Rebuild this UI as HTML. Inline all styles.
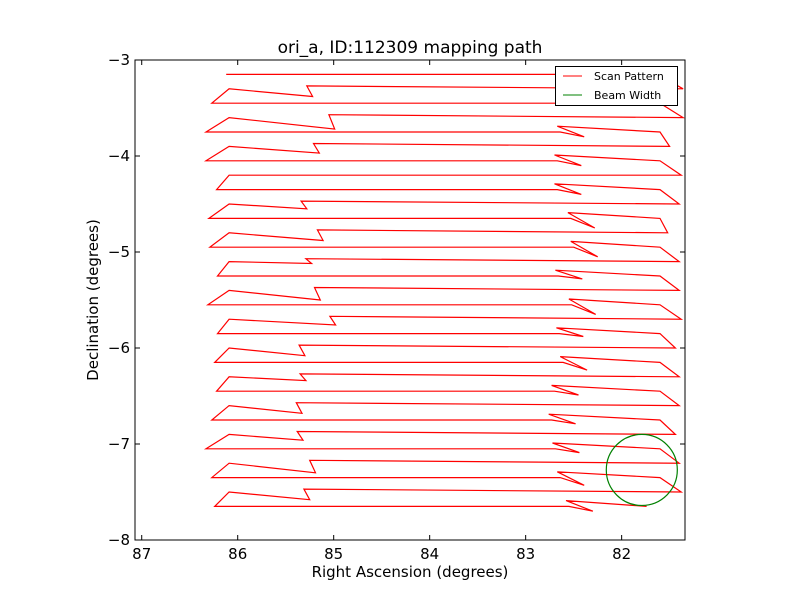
<!DOCTYPE html>
<html><head><meta charset="utf-8"><style>
html,body{margin:0;padding:0;background:#fff;}
svg{display:block;font-family:"DejaVu Sans","Liberation Sans",sans-serif;}
</style></head><body>
<svg id="chart" width="800" height="600" viewBox="0 0 800 600">
<rect x="0" y="0" width="800" height="600" fill="#ffffff"/>
<text x="410" y="53" font-size="17" text-anchor="middle">ori_a, ID:112309 mapping path</text>
<g id="plot"></g>
<text x="410" y="577" font-size="15" text-anchor="middle">Right Ascension (degrees)</text>
<text x="98" y="300" font-size="15" text-anchor="middle" transform="rotate(-90 98 300)">Declination (degrees)</text>
</svg>
<script>
const xTicks = [87, 86, 85, 84, 83, 82];
const yTicks = [-3, -4, -5, -6, -7, -8];
const decs = [-3.15,-3.30,-3.45,-3.60,-3.75,-3.90,-4.05,-4.20,-4.35,-4.50,-4.65,-4.80,-4.95,-5.10,-5.25,-5.40,-5.55,-5.70,-5.85,-6.00,-6.15,-6.30,-6.45,-6.60,-6.75,-6.90,-7.05,-7.20,-7.35,-7.50,-7.65];
const leftRA = [86.12,86.09,86.27,86.09,86.33,86.09,86.33,86.09,86.22,86.09,86.30,86.09,86.29,86.09,86.21,86.09,86.31,86.09,86.21,86.09,86.24,86.09,86.22,86.09,86.27,86.09,86.33,86.09,86.27,86.09,86.24];
const rightRA = [81.63,81.36,81.60,81.36,81.60,81.50,81.60,81.38,81.60,81.40,81.60,81.52,81.60,81.40,81.60,81.40,81.60,81.38,81.60,81.44,81.60,81.40,81.60,81.40,81.60,81.44,81.60,81.40,81.60,81.38,81.74];
const leftJagRA = [null,85.22,null,84.99,null,85.15,null,null,null,85.28,null,85.11,null,85.23,null,85.14,null,84.98,null,85.30,null,85.29,null,85.33,null,85.32,null,85.19,null,85.25,null];
const leftJagDrop = [0,0.08,0,0.12,0,0.07,0,0,0,0.05,0,0.08,0,0.02,0,0.10,0,0.06,0,0.08,0,0.04,0,0.08,0,0.06,0,0.10,0,0.08,0];
const rightJagRA = [null,null,null,null,82.39,null,82.42,null,82.42,null,82.28,null,82.25,null,82.41,null,82.27,null,82.40,null,82.36,null,82.45,null,82.48,null,82.44,null,82.39,null,82.30];
const rightJagDrop = [0,0,0,0,0.05,0,0.05,0,0.05,0,0.10,0,0.10,0,0.03,0,0.10,0,0.03,0,0.08,0,0.04,0,0.04,0,0.04,0,0.08,0,0.05];
const beamRA = 81.79, beamDec = -7.27, beamR = 0.37;

const X0=135, X1=685, Y0=60, Y1=540;
const raMin=81.34, raMax=87.07, decMin=-8, decMax=-3;
const sx = ra => X0 + (raMax-ra)/(raMax-raMin)*(X1-X0);
const sy = d => Y0 + (decMax-d)/(decMax-decMin)*(Y1-Y0);
const NS='http://www.w3.org/2000/svg';
const plot=document.getElementById('plot');
function mk(tag, attrs){const e=document.createElementNS(NS,tag);for(const k in attrs)e.setAttribute(k,attrs[k]);return e;}

const pts=[];
for(let i=0;i<decs.length;i++){
  const d=decs[i];
  const row=[];
  row.push([leftRA[i],d]);
  if(leftJagRA[i]!==null){
    row.push([leftJagRA[i],d-leftJagDrop[i]]);
    row.push([leftJagRA[i]+0.06,d+0.03]);
  }
  if(rightJagRA[i]!==null){
    row.push([rightJagRA[i]+0.25,d]);
    row.push([rightJagRA[i],d-rightJagDrop[i]]);
    row.push([rightJagRA[i]+0.28,d+0.06]);
  }
  row.push([rightRA[i],d]);
  if(i%2===1) row.reverse();
  pts.push(...row);
}
const clip=mk('clipPath',{id:'pc'});
clip.appendChild(mk('rect',{x:X0,y:Y0,width:X1-X0,height:Y1-Y0}));
plot.appendChild(clip);
const scan=mk('polyline',{points:pts.map(p=>sx(p[0]).toFixed(1)+','+sy(p[1]).toFixed(1)).join(' '),fill:'none',stroke:'#ff0000','stroke-width':1.2,'clip-path':'url(#pc)'});


plot.appendChild(scan);
const pxPerDeg=(X1-X0)/(raMax-raMin);
const beam=mk('circle',{cx:sx(beamRA),cy:sy(beamDec),r:beamR*pxPerDeg,fill:'none',stroke:'#008000','stroke-width':1.2});


plot.appendChild(beam);

const frame=mk('rect',{x:X0,y:Y0,width:X1-X0,height:Y1-Y0,fill:'none',stroke:'#000','stroke-width':1});


plot.appendChild(frame);
xTicks.forEach(t=>{
  const x=sx(t);
  const g=mk('g',{});
  
  
  g.appendChild(mk('line',{x1:x,y1:Y1,x2:x,y2:Y1-5,stroke:'#000'}));
  g.appendChild(mk('line',{x1:x,y1:Y0,x2:x,y2:Y0+5,stroke:'#000'}));
  const tx=mk('text',{x:x,y:Y1+19,'font-size':15,'text-anchor':'middle'});
  tx.textContent=String(t);
  g.appendChild(tx);
  plot.appendChild(g);
});
yTicks.forEach(t=>{
  const y=sy(t);
  const g=mk('g',{});
  
  
  g.appendChild(mk('line',{x1:X0,y1:y,x2:X0+5,y2:y,stroke:'#000'}));
  g.appendChild(mk('line',{x1:X1,y1:y,x2:X1-5,y2:y,stroke:'#000'}));
  const tx=mk('text',{x:X0-5,y:y+5,'font-size':15,'text-anchor':'end'});
  tx.textContent='\u2212'+Math.abs(t);
  g.appendChild(tx);
  plot.appendChild(g);
});
const lg=mk('g',{});


lg.appendChild(mk('rect',{x:555.5,y:66.5,width:122,height:39,fill:'#fff',stroke:'#000'}));
lg.appendChild(mk('line',{x1:563,y1:76,x2:582,y2:76,stroke:'#ff0000'}));
lg.appendChild(mk('line',{x1:563,y1:95,x2:582,y2:95,stroke:'#008000'}));
const t1=mk('text',{x:594,y:80,'font-size':11});t1.textContent='Scan Pattern';


const t2=mk('text',{x:594,y:99,'font-size':11});t2.textContent='Beam Width';


lg.appendChild(t1);lg.appendChild(t2);
plot.appendChild(lg);
</script>
</body></html>
